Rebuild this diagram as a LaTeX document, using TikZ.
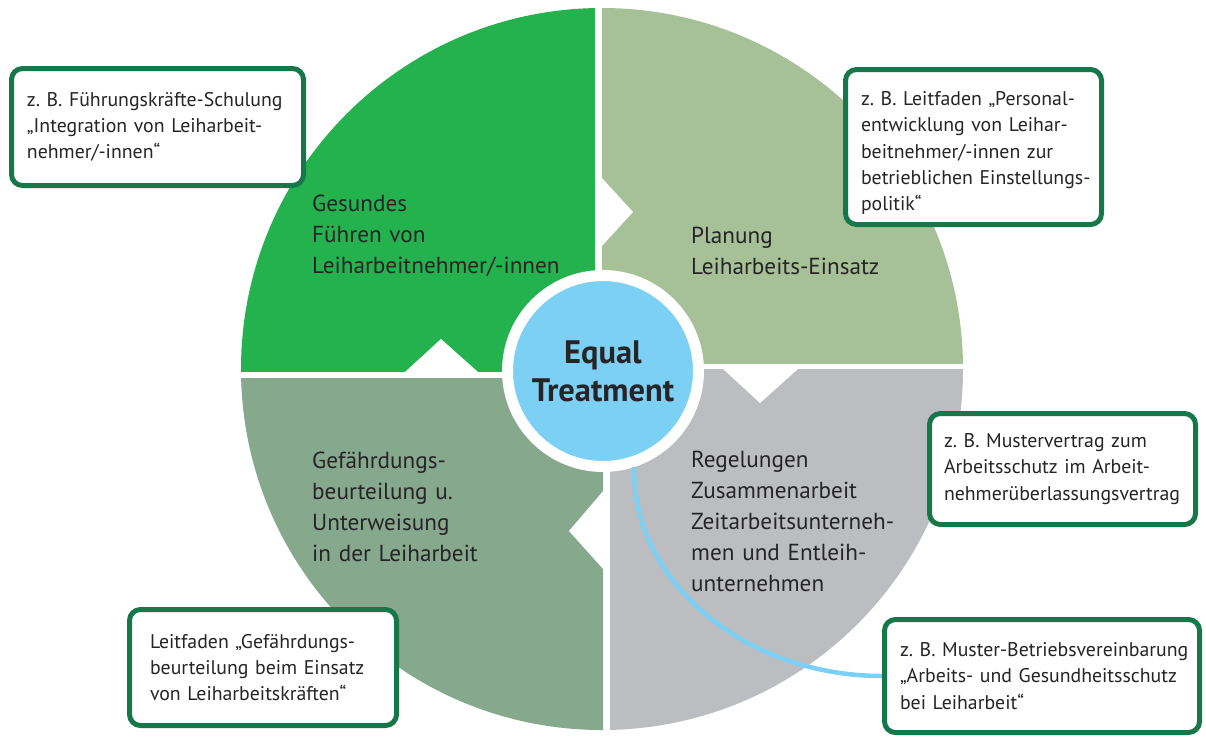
\documentclass[tikz,border=0pt]{standalone}
\usepackage{fontspec}
\setmainfont{PT Sans}
\frenchspacing
\definecolor{qgreen}{HTML}{24B24F}
\definecolor{qlight}{HTML}{A6C198}
\definecolor{qdark}{HTML}{86A88D}
\definecolor{qgray}{HTML}{BCBDC1}
\definecolor{eqblue}{HTML}{7BD0F4}
\definecolor{boxgreen}{HTML}{16784A}
\definecolor{ink}{HTML}{262426}
% one unbreakable line of box text
\newcommand{\bl}[1]{\mbox{#1}}
\begin{document}
\begin{tikzpicture}[x=1pt,y=-1pt,
  note/.style={draw=boxgreen, line width=5pt, fill=white, rounded corners=11pt,
    inner ysep=0pt, outer sep=0pt, align=left, text=ink,
    execute at begin node={\hfuzz=100pt\hbadness=10000},
    font=\fontsize{19.8}{26.2}\selectfont},
  label/.style={anchor=base west, inner sep=0pt, text width=300pt, align=left,
    text=ink, font=\fontsize{23.2}{31}\selectfont},
  link/.style={draw=eqblue, line width=4.5pt}]
\useasboundingbox (0,0) rectangle (1206,736);

% four quarters of the disc, separated by white gaps
\begin{scope}
  \clip (0,0) rectangle (595,371);
  \fill[qgreen] (602,369) circle (361pt);
\end{scope}
\begin{scope}
  \clip (602,0) rectangle (1206,363);
  \fill[qlight] (602,369) circle (361pt);
\end{scope}
\begin{scope}
  \clip (0,378) rectangle (603,736);
  \fill[qdark] (602,369) circle (361pt);
\end{scope}
\begin{scope}
  \clip (610,369) rectangle (1206,736);
  \fill[qgray] (602,369) circle (361pt);
\end{scope}

% triangular notches
\fill[white] (405,372) -- (441,339) -- (478,372) -- cycle;
\fill[white] (601,177) -- (633,212) -- (601,247) -- cycle;
\fill[white] (722,368) -- (760,403) -- (799,368) -- cycle;
\fill[white] (604,490) -- (569,531) -- (604,570) -- cycle;

% quarter labels
\node[label] (lq1) at (312,211) {Gesundes\\Führen von\\Leiharbeitnehmer/-innen};
\node[label] (lq2) at (691,243) {Planung\\Leiharbeits-Einsatz};
\node[label] (lq3) at (312,468) {Gefährdungs-\\beurteilung u.\\Unterweisung\\in der Leiharbeit};
\node[label] (lq4) at (691,467) {Regelungen\\Zusammenarbeit\\Zeitarbeitsunterneh-\\men und Entleih-\\unternehmen};

% centre
\node[circle, fill=eqblue, draw=white, line width=11pt, minimum size=191pt,
  inner sep=0pt, align=center, text=ink,
  font=\fontsize{32.5}{38}\selectfont\bfseries] (eq) at (603,371) {Equal\\Treatment};

% example boxes
\node[note, minimum width=292pt, minimum height=117pt, inner xsep=15.5pt, text width=261pt]
  (b1) at (157.5,127) {\bl{z. B. Führungskräfte-Schulung}\\\bl{„Integration von Leiharbeit-}\\\bl{nehmer/-innen“}};
\node[note, minimum width=256pt, minimum height=155pt, inner xsep=15.5pt, text width=225pt]
  (b2) at (973.5,147) {\rule{0pt}{26pt}\bl{z. B. Leitfaden „Personal-}\\\bl{entwicklung von Leihar-}\\\bl{beitnehmer/-innen zur}\\\bl{betrieblichen Einstellungs-}\\\bl{politik“}};
\node[note, minimum width=266pt, minimum height=111pt, inner xsep=14.5pt, text width=237pt]
  (b3) at (1062.5,469) {\bl{z. B. Mustervertrag zum}\\\bl{Arbeitsschutz im Arbeit-}\\\bl{nehmerüberlassungsvertrag}};
\node[note, minimum width=267pt, minimum height=116pt, inner xsep=20.5pt, text width=226pt]
  (b4) at (263,667.5) {\bl{Leitfaden „Gefährdungs-}\\\bl{beurteilung beim Einsatz}\\\bl{von Leiharbeitskräften“}};
\node[note, minimum width=315pt, minimum height=113pt, inner xsep=15.5pt, text width=284pt]
  (b5) at (1042,676) {\bl{z. B. Muster-Betriebsvereinbarung}\\\bl{„Arbeits- und Gesundheitsschutz}\\\bl{bei Leiharbeit“}};

% connector from the centre to the last box
\draw[link] (eq.-72) .. controls (631,579) and (743,677) .. (b5.west);
% redraw the box outline edge over the line end
\draw[boxgreen, line width=5pt] ([yshift=12pt]b5.west) -- ([yshift=-12pt]b5.west);
\end{tikzpicture}
\end{document}
